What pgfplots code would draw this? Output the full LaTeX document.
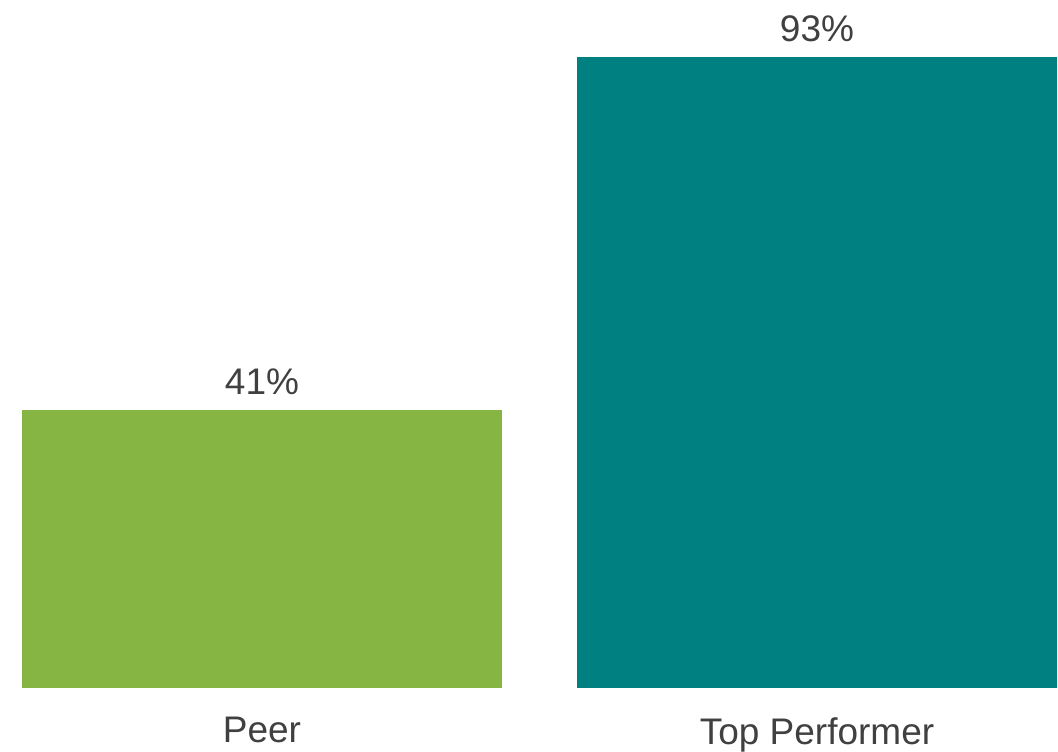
\documentclass[border=0pt]{standalone}
\usepackage{pgfplots}
\pgfplotsset{compat=1.18}
\usepackage{fontspec}
\setmainfont{Liberation Sans}
\definecolor{peer}{HTML}{86B543}
\definecolor{top}{HTML}{008080}
\definecolor{txt}{HTML}{404040}
\begin{document}
\begin{tikzpicture}[x=1pt,y=1pt]
\useasboundingbox (-22,-64) rectangle (1036,688);
\begin{axis}[
  at={(0,0)}, anchor=south west,
  scale only axis, width=1035pt, height=678pt,
  xmin=-0.4324, xmax=1.4324, ymin=0, ymax=100,
  axis line style={draw=none}, ytick=\empty,
  xtick={0,1}, xticklabels={Peer,Top Performer},
  major tick length=0pt,
  /pgf/number format/assume math mode=true,
  xticklabel style={font=\fontsize{37}{40}\selectfont, text=txt, yshift=-26pt},
  ybar, bar width=480pt, bar shift=0pt,
  nodes near coords={\pgfmathprintnumber{\pgfplotspointmeta}\%},
  nodes near coords style={font=\fontsize{37}{40}\selectfont, text=txt, anchor=south, yshift=12pt},
  clip=false,
]
\addplot[fill=peer, draw=none] coordinates {(0,41)};
\addplot[fill=top, draw=none] coordinates {(1,93)};
\end{axis}
\end{tikzpicture}
\end{document}
